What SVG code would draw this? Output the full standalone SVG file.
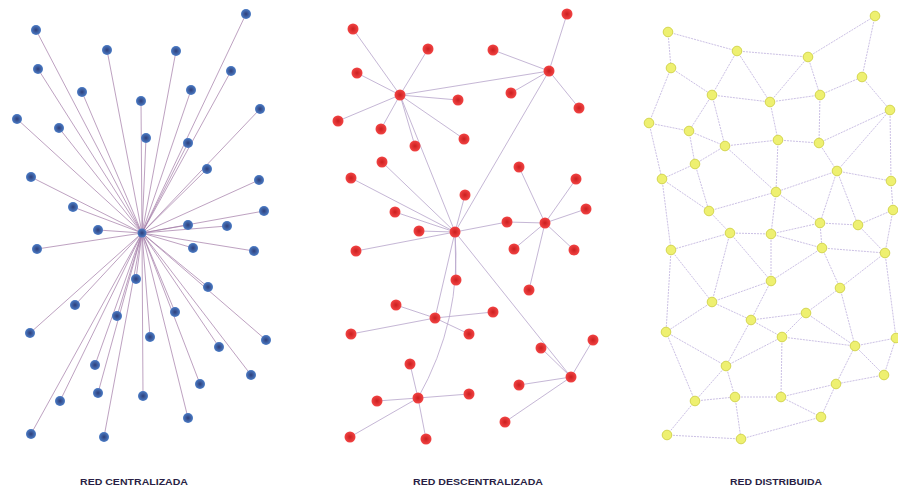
<svg xmlns="http://www.w3.org/2000/svg" width="898" height="490" viewBox="0 0 898 490">
<style>
.lc{stroke:#a57ea9;stroke-width:0.9;opacity:0.8}
.lm{stroke:#b8a6cc;stroke-width:0.9;opacity:0.9}
.lr{stroke:#bcaedc;stroke-width:0.9;stroke-dasharray:2 1;opacity:0.85}
.b{fill:url(#gb)}
.r{fill:url(#gr)}
.y{fill:#eef070;stroke:#d4d650;stroke-width:1}
.lbl{font-family:"Liberation Sans",Arial,sans-serif;font-weight:bold;font-size:9px;fill:#2a1f45;text-anchor:middle}
</style>
<defs>
<radialGradient id="gb" cx="0.5" cy="0.5" r="0.5"><stop offset="0" stop-color="#2e3f7a"/><stop offset="1" stop-color="#4b7cc6"/></radialGradient>
<radialGradient id="gr" cx="0.5" cy="0.5" r="0.5"><stop offset="0" stop-color="#cc1f1f"/><stop offset="1" stop-color="#f24444"/></radialGradient>
</defs>
<rect width="898" height="490" fill="#ffffff"/>
<g id="connectors">
<g id="conn-central">
<line class="lc" x1="142" y1="233" x2="246" y2="14"/><line class="lc" x1="142" y1="233" x2="36" y2="30"/><line class="lc" x1="142" y1="233" x2="107" y2="50"/><line class="lc" x1="142" y1="233" x2="176" y2="51"/><line class="lc" x1="142" y1="233" x2="38" y2="69"/><line class="lc" x1="142" y1="233" x2="231" y2="71"/><line class="lc" x1="142" y1="233" x2="82" y2="92"/><line class="lc" x1="142" y1="233" x2="191" y2="90"/><line class="lc" x1="142" y1="233" x2="141" y2="101"/><line class="lc" x1="142" y1="233" x2="260" y2="109"/><line class="lc" x1="142" y1="233" x2="17" y2="119"/><line class="lc" x1="142" y1="233" x2="59" y2="128"/><line class="lc" x1="142" y1="233" x2="146" y2="138"/><line class="lc" x1="142" y1="233" x2="188" y2="143"/><line class="lc" x1="142" y1="233" x2="207" y2="169"/><line class="lc" x1="142" y1="233" x2="31" y2="177"/><line class="lc" x1="142" y1="233" x2="259" y2="180"/><line class="lc" x1="142" y1="233" x2="73" y2="207"/><line class="lc" x1="142" y1="233" x2="264" y2="211"/><line class="lc" x1="142" y1="233" x2="98" y2="230"/><line class="lc" x1="142" y1="233" x2="188" y2="225"/><line class="lc" x1="142" y1="233" x2="227" y2="226"/><line class="lc" x1="142" y1="233" x2="37" y2="249"/><line class="lc" x1="142" y1="233" x2="193" y2="248"/><line class="lc" x1="142" y1="233" x2="254" y2="251"/><line class="lc" x1="142" y1="233" x2="136" y2="279"/><line class="lc" x1="142" y1="233" x2="208" y2="287"/><line class="lc" x1="142" y1="233" x2="75" y2="305"/><line class="lc" x1="142" y1="233" x2="117" y2="316"/><line class="lc" x1="142" y1="233" x2="175" y2="312"/><line class="lc" x1="142" y1="233" x2="30" y2="333"/><line class="lc" x1="142" y1="233" x2="150" y2="337"/><line class="lc" x1="142" y1="233" x2="266" y2="340"/><line class="lc" x1="142" y1="233" x2="219" y2="347"/><line class="lc" x1="142" y1="233" x2="95" y2="365"/><line class="lc" x1="142" y1="233" x2="251" y2="375"/><line class="lc" x1="142" y1="233" x2="200" y2="384"/><line class="lc" x1="142" y1="233" x2="98" y2="393"/><line class="lc" x1="142" y1="233" x2="143" y2="396"/><line class="lc" x1="142" y1="233" x2="60" y2="401"/><line class="lc" x1="142" y1="233" x2="188" y2="418"/><line class="lc" x1="142" y1="233" x2="31" y2="434"/><line class="lc" x1="142" y1="233" x2="104" y2="437"/>
</g>
<g id="conn-decentral">
<line class="lm" x1="400" y1="95" x2="353" y2="29"/><line class="lm" x1="400" y1="95" x2="428" y2="49"/><line class="lm" x1="400" y1="95" x2="357" y2="73"/><line class="lm" x1="400" y1="95" x2="458" y2="100"/><line class="lm" x1="400" y1="95" x2="338" y2="121"/><line class="lm" x1="400" y1="95" x2="381" y2="129"/><line class="lm" x1="400" y1="95" x2="415" y2="146"/><line class="lm" x1="400" y1="95" x2="464" y2="139"/>
<line class="lm" x1="549" y1="71" x2="567" y2="14"/><line class="lm" x1="549" y1="71" x2="493" y2="50"/><line class="lm" x1="549" y1="71" x2="511" y2="93"/><line class="lm" x1="549" y1="71" x2="579" y2="108"/>
<line class="lm" x1="545" y1="223" x2="519" y2="167"/><line class="lm" x1="545" y1="223" x2="576" y2="179"/><line class="lm" x1="545" y1="223" x2="586" y2="209"/><line class="lm" x1="545" y1="223" x2="507" y2="222"/><line class="lm" x1="545" y1="223" x2="514" y2="249"/><line class="lm" x1="545" y1="223" x2="574" y2="250"/><line class="lm" x1="545" y1="223" x2="529" y2="290"/>
<line class="lm" x1="455" y1="232" x2="382" y2="162"/><line class="lm" x1="455" y1="232" x2="351" y2="178"/><line class="lm" x1="455" y1="232" x2="465" y2="195"/><line class="lm" x1="455" y1="232" x2="395" y2="212"/><line class="lm" x1="455" y1="232" x2="419" y2="231"/><line class="lm" x1="455" y1="232" x2="356" y2="251"/><line class="lm" x1="455" y1="232" x2="456" y2="280"/><line class="lm" x1="455" y1="232" x2="507" y2="222"/>
<line class="lm" x1="435" y1="318" x2="396" y2="305"/><line class="lm" x1="435" y1="318" x2="493" y2="312"/><line class="lm" x1="435" y1="318" x2="351" y2="334"/><line class="lm" x1="435" y1="318" x2="469" y2="334"/>
<line class="lm" x1="571" y1="377" x2="593" y2="340"/><line class="lm" x1="571" y1="377" x2="541" y2="348"/><line class="lm" x1="571" y1="377" x2="519" y2="385"/><line class="lm" x1="571" y1="377" x2="505" y2="422"/>
<line class="lm" x1="418" y1="398" x2="410" y2="364"/><line class="lm" x1="418" y1="398" x2="377" y2="401"/><line class="lm" x1="418" y1="398" x2="469" y2="394"/><line class="lm" x1="418" y1="398" x2="350" y2="437"/><line class="lm" x1="418" y1="398" x2="426" y2="439"/>
<line class="lm" x1="400" y1="95" x2="549" y2="71"/><line class="lm" x1="400" y1="95" x2="455" y2="232"/><line class="lm" x1="549" y1="71" x2="455" y2="232"/><line class="lm" x1="455" y1="232" x2="435" y2="318"/><line class="lm" x1="455" y1="232" x2="571" y2="377"/><path class="lm" fill="none" d="M455 232 Q462 320 418 398"/>
</g>
<g id="conn-distrib">
<line class="lr" x1="668" y1="32" x2="737" y2="51"/><line class="lr" x1="737" y1="51" x2="808" y2="57"/><line class="lr" x1="808" y1="57" x2="875" y2="16"/><line class="lr" x1="875" y1="16" x2="862" y2="77"/><line class="lr" x1="668" y1="32" x2="671" y2="68"/><line class="lr" x1="671" y1="68" x2="712" y2="95"/><line class="lr" x1="737" y1="51" x2="712" y2="95"/><line class="lr" x1="737" y1="51" x2="770" y2="102"/><line class="lr" x1="712" y1="95" x2="770" y2="102"/><line class="lr" x1="770" y1="102" x2="808" y2="57"/><line class="lr" x1="808" y1="57" x2="820" y2="95"/><line class="lr" x1="770" y1="102" x2="820" y2="95"/><line class="lr" x1="820" y1="95" x2="862" y2="77"/><line class="lr" x1="862" y1="77" x2="890" y2="110"/><line class="lr" x1="671" y1="68" x2="649" y2="123"/>
<line class="lr" x1="712" y1="95" x2="689" y2="131"/><line class="lr" x1="712" y1="95" x2="725" y2="146"/><line class="lr" x1="649" y1="123" x2="689" y2="131"/><line class="lr" x1="689" y1="131" x2="725" y2="146"/><line class="lr" x1="725" y1="146" x2="778" y2="140"/><line class="lr" x1="778" y1="140" x2="819" y2="143"/><line class="lr" x1="770" y1="102" x2="778" y2="140"/><line class="lr" x1="820" y1="95" x2="819" y2="143"/><line class="lr" x1="819" y1="143" x2="890" y2="110"/><line class="lr" x1="890" y1="110" x2="837" y2="171"/><line class="lr" x1="890" y1="110" x2="891" y2="181"/><line class="lr" x1="819" y1="143" x2="837" y2="171"/><line class="lr" x1="837" y1="171" x2="891" y2="181"/><line class="lr" x1="837" y1="171" x2="776" y2="192"/><line class="lr" x1="837" y1="171" x2="820" y2="223"/><line class="lr" x1="837" y1="171" x2="858" y2="225"/><line class="lr" x1="858" y1="225" x2="893" y2="210"/><line class="lr" x1="891" y1="181" x2="893" y2="210"/>
<line class="lr" x1="649" y1="123" x2="662" y2="179"/><line class="lr" x1="689" y1="131" x2="695" y2="164"/><line class="lr" x1="695" y1="164" x2="725" y2="146"/><line class="lr" x1="695" y1="164" x2="662" y2="179"/><line class="lr" x1="695" y1="164" x2="709" y2="211"/><line class="lr" x1="725" y1="146" x2="776" y2="192"/><line class="lr" x1="778" y1="140" x2="776" y2="192"/><line class="lr" x1="662" y1="179" x2="709" y2="211"/><line class="lr" x1="709" y1="211" x2="776" y2="192"/><line class="lr" x1="776" y1="192" x2="820" y2="223"/><line class="lr" x1="820" y1="223" x2="858" y2="225"/><line class="lr" x1="709" y1="211" x2="730" y2="233"/><line class="lr" x1="776" y1="192" x2="771" y2="234"/><line class="lr" x1="730" y1="233" x2="771" y2="234"/><line class="lr" x1="662" y1="179" x2="671" y2="250"/><line class="lr" x1="771" y1="234" x2="820" y2="223"/>
<line class="lr" x1="730" y1="233" x2="671" y2="250"/><line class="lr" x1="730" y1="233" x2="712" y2="302"/><line class="lr" x1="730" y1="233" x2="771" y2="281"/><line class="lr" x1="771" y1="234" x2="771" y2="281"/><line class="lr" x1="771" y1="234" x2="822" y2="248"/><line class="lr" x1="822" y1="248" x2="885" y2="253"/><line class="lr" x1="822" y1="248" x2="771" y2="281"/><line class="lr" x1="822" y1="248" x2="840" y2="288"/><line class="lr" x1="885" y1="253" x2="840" y2="288"/><line class="lr" x1="858" y1="225" x2="885" y2="253"/><line class="lr" x1="893" y1="210" x2="885" y2="253"/><line class="lr" x1="820" y1="223" x2="822" y2="248"/><line class="lr" x1="671" y1="250" x2="712" y2="302"/><line class="lr" x1="671" y1="250" x2="666" y2="332"/><line class="lr" x1="771" y1="281" x2="712" y2="302"/><line class="lr" x1="771" y1="281" x2="751" y2="320"/><line class="lr" x1="712" y1="302" x2="751" y2="320"/><line class="lr" x1="712" y1="302" x2="666" y2="332"/><line class="lr" x1="751" y1="320" x2="806" y2="313"/><line class="lr" x1="806" y1="313" x2="840" y2="288"/><line class="lr" x1="751" y1="320" x2="782" y2="337"/><line class="lr" x1="806" y1="313" x2="782" y2="337"/><line class="lr" x1="806" y1="313" x2="855" y2="346"/><line class="lr" x1="840" y1="288" x2="855" y2="346"/><line class="lr" x1="782" y1="337" x2="855" y2="346"/><line class="lr" x1="855" y1="346" x2="896" y2="338"/><line class="lr" x1="885" y1="253" x2="896" y2="338"/>
<line class="lr" x1="666" y1="332" x2="726" y2="366"/><line class="lr" x1="751" y1="320" x2="726" y2="366"/><line class="lr" x1="782" y1="337" x2="726" y2="366"/><line class="lr" x1="666" y1="332" x2="695" y2="401"/><line class="lr" x1="726" y1="366" x2="695" y2="401"/><line class="lr" x1="726" y1="366" x2="735" y2="397"/><line class="lr" x1="695" y1="401" x2="735" y2="397"/><line class="lr" x1="735" y1="397" x2="781" y2="397"/><line class="lr" x1="782" y1="337" x2="781" y2="397"/><line class="lr" x1="781" y1="397" x2="836" y2="384"/><line class="lr" x1="781" y1="397" x2="821" y2="417"/><line class="lr" x1="836" y1="384" x2="821" y2="417"/><line class="lr" x1="836" y1="384" x2="855" y2="346"/><line class="lr" x1="855" y1="346" x2="884" y2="375"/><line class="lr" x1="884" y1="375" x2="896" y2="338"/><line class="lr" x1="884" y1="375" x2="836" y2="384"/><line class="lr" x1="695" y1="401" x2="667" y2="435"/><line class="lr" x1="667" y1="435" x2="741" y2="439"/><line class="lr" x1="735" y1="397" x2="741" y2="439"/><line class="lr" x1="741" y1="439" x2="821" y2="417"/>
</g>
</g>
<g id="nodes-central">
<g id="c0"><circle class="b" cx="142" cy="233" r="4.5"/></g>
<g id="c1"><circle class="b" cx="246" cy="14" r="5"/></g><g id="c2"><circle class="b" cx="36" cy="30" r="5"/></g><g id="c3"><circle class="b" cx="107" cy="50" r="5"/></g><g id="c4"><circle class="b" cx="176" cy="51" r="5"/></g><g id="c5"><circle class="b" cx="38" cy="69" r="5"/></g><g id="c6"><circle class="b" cx="231" cy="71" r="5"/></g><g id="c7"><circle class="b" cx="82" cy="92" r="5"/></g><g id="c8"><circle class="b" cx="191" cy="90" r="5"/></g><g id="c9"><circle class="b" cx="141" cy="101" r="5"/></g><g id="c10"><circle class="b" cx="260" cy="109" r="5"/></g><g id="c11"><circle class="b" cx="17" cy="119" r="5"/></g><g id="c12"><circle class="b" cx="59" cy="128" r="5"/></g><g id="c13"><circle class="b" cx="146" cy="138" r="5"/></g><g id="c14"><circle class="b" cx="188" cy="143" r="5"/></g><g id="c15"><circle class="b" cx="207" cy="169" r="5"/></g><g id="c16"><circle class="b" cx="31" cy="177" r="5"/></g><g id="c17"><circle class="b" cx="259" cy="180" r="5"/></g><g id="c18"><circle class="b" cx="73" cy="207" r="5"/></g><g id="c19"><circle class="b" cx="264" cy="211" r="5"/></g><g id="c20"><circle class="b" cx="98" cy="230" r="5"/></g><g id="c21"><circle class="b" cx="188" cy="225" r="5"/></g><g id="c22"><circle class="b" cx="227" cy="226" r="5"/></g><g id="c23"><circle class="b" cx="37" cy="249" r="5"/></g><g id="c24"><circle class="b" cx="193" cy="248" r="5"/></g><g id="c25"><circle class="b" cx="254" cy="251" r="5"/></g><g id="c26"><circle class="b" cx="136" cy="279" r="5"/></g><g id="c27"><circle class="b" cx="208" cy="287" r="5"/></g><g id="c28"><circle class="b" cx="75" cy="305" r="5"/></g><g id="c29"><circle class="b" cx="117" cy="316" r="5"/></g><g id="c30"><circle class="b" cx="175" cy="312" r="5"/></g><g id="c31"><circle class="b" cx="30" cy="333" r="5"/></g><g id="c32"><circle class="b" cx="150" cy="337" r="5"/></g><g id="c33"><circle class="b" cx="266" cy="340" r="5"/></g><g id="c34"><circle class="b" cx="219" cy="347" r="5"/></g><g id="c35"><circle class="b" cx="95" cy="365" r="5"/></g><g id="c36"><circle class="b" cx="251" cy="375" r="5"/></g><g id="c37"><circle class="b" cx="200" cy="384" r="5"/></g><g id="c38"><circle class="b" cx="98" cy="393" r="5"/></g><g id="c39"><circle class="b" cx="143" cy="396" r="5"/></g><g id="c40"><circle class="b" cx="60" cy="401" r="5"/></g><g id="c41"><circle class="b" cx="188" cy="418" r="5"/></g><g id="c42"><circle class="b" cx="31" cy="434" r="5"/></g><g id="c43"><circle class="b" cx="104" cy="437" r="5"/></g>
</g>
<g id="nodes-decentral">
<g id="hA"><circle class="r" cx="400" cy="95" r="5.5"/></g><g id="hB"><circle class="r" cx="549" cy="71" r="5.5"/></g><g id="hC"><circle class="r" cx="545" cy="223" r="5.5"/></g><g id="hD"><circle class="r" cx="455" cy="232" r="5.5"/></g><g id="hE"><circle class="r" cx="435" cy="318" r="5.5"/></g><g id="hF"><circle class="r" cx="571" cy="377" r="5.5"/></g><g id="hG"><circle class="r" cx="418" cy="398" r="5.5"/></g>
<g id="d1"><circle class="r" cx="353" cy="29" r="5.5"/></g><g id="d2"><circle class="r" cx="428" cy="49" r="5.5"/></g><g id="d3"><circle class="r" cx="357" cy="73" r="5.5"/></g><g id="d4"><circle class="r" cx="458" cy="100" r="5.5"/></g><g id="d5"><circle class="r" cx="338" cy="121" r="5.5"/></g><g id="d6"><circle class="r" cx="381" cy="129" r="5.5"/></g><g id="d7"><circle class="r" cx="415" cy="146" r="5.5"/></g><g id="d8"><circle class="r" cx="464" cy="139" r="5.5"/></g>
<g id="d9"><circle class="r" cx="567" cy="14" r="5.5"/></g><g id="d10"><circle class="r" cx="493" cy="50" r="5.5"/></g><g id="d11"><circle class="r" cx="511" cy="93" r="5.5"/></g><g id="d12"><circle class="r" cx="579" cy="108" r="5.5"/></g>
<g id="d13"><circle class="r" cx="519" cy="167" r="5.5"/></g><g id="d14"><circle class="r" cx="576" cy="179" r="5.5"/></g><g id="d15"><circle class="r" cx="586" cy="209" r="5.5"/></g><g id="d16"><circle class="r" cx="507" cy="222" r="5.5"/></g><g id="d17"><circle class="r" cx="514" cy="249" r="5.5"/></g><g id="d18"><circle class="r" cx="574" cy="250" r="5.5"/></g><g id="d19"><circle class="r" cx="529" cy="290" r="5.5"/></g>
<g id="d20"><circle class="r" cx="382" cy="162" r="5.5"/></g><g id="d21"><circle class="r" cx="351" cy="178" r="5.5"/></g><g id="d22"><circle class="r" cx="465" cy="195" r="5.5"/></g><g id="d23"><circle class="r" cx="395" cy="212" r="5.5"/></g><g id="d24"><circle class="r" cx="419" cy="231" r="5.5"/></g><g id="d25"><circle class="r" cx="356" cy="251" r="5.5"/></g><g id="d26"><circle class="r" cx="456" cy="280" r="5.5"/></g>
<g id="d27"><circle class="r" cx="396" cy="305" r="5.5"/></g><g id="d28"><circle class="r" cx="493" cy="312" r="5.5"/></g><g id="d29"><circle class="r" cx="351" cy="334" r="5.5"/></g><g id="d30"><circle class="r" cx="469" cy="334" r="5.5"/></g>
<g id="d31"><circle class="r" cx="593" cy="340" r="5.5"/></g><g id="d32"><circle class="r" cx="541" cy="348" r="5.5"/></g><g id="d33"><circle class="r" cx="519" cy="385" r="5.5"/></g><g id="d34"><circle class="r" cx="505" cy="422" r="5.5"/></g>
<g id="d35"><circle class="r" cx="410" cy="364" r="5.5"/></g><g id="d36"><circle class="r" cx="377" cy="401" r="5.5"/></g><g id="d37"><circle class="r" cx="469" cy="394" r="5.5"/></g><g id="d38"><circle class="r" cx="350" cy="437" r="5.5"/></g><g id="d39"><circle class="r" cx="426" cy="439" r="5.5"/></g>
</g>
<g id="nodes-distrib">
<g id="n1"><circle class="y" cx="875" cy="16" r="4.8"/></g><g id="n2"><circle class="y" cx="668" cy="32" r="4.8"/></g><g id="n3"><circle class="y" cx="737" cy="51" r="4.8"/></g><g id="n4"><circle class="y" cx="808" cy="57" r="4.8"/></g><g id="n5"><circle class="y" cx="671" cy="68" r="4.8"/></g><g id="n6"><circle class="y" cx="862" cy="77" r="4.8"/></g><g id="n7"><circle class="y" cx="712" cy="95" r="4.8"/></g><g id="n8"><circle class="y" cx="770" cy="102" r="4.8"/></g><g id="n9"><circle class="y" cx="820" cy="95" r="4.8"/></g><g id="n10"><circle class="y" cx="890" cy="110" r="4.8"/></g><g id="n11"><circle class="y" cx="649" cy="123" r="4.8"/></g><g id="n12"><circle class="y" cx="689" cy="131" r="4.8"/></g><g id="n13"><circle class="y" cx="725" cy="146" r="4.8"/></g><g id="n14"><circle class="y" cx="778" cy="140" r="4.8"/></g><g id="n15"><circle class="y" cx="819" cy="143" r="4.8"/></g><g id="n16"><circle class="y" cx="695" cy="164" r="4.8"/></g><g id="n17"><circle class="y" cx="837" cy="171" r="4.8"/></g><g id="n18"><circle class="y" cx="662" cy="179" r="4.8"/></g><g id="n19"><circle class="y" cx="891" cy="181" r="4.8"/></g><g id="n20"><circle class="y" cx="776" cy="192" r="4.8"/></g><g id="n21"><circle class="y" cx="709" cy="211" r="4.8"/></g><g id="n22"><circle class="y" cx="893" cy="210" r="4.8"/></g><g id="n23"><circle class="y" cx="820" cy="223" r="4.8"/></g><g id="n24"><circle class="y" cx="858" cy="225" r="4.8"/></g><g id="n25"><circle class="y" cx="730" cy="233" r="4.8"/></g><g id="n26"><circle class="y" cx="771" cy="234" r="4.8"/></g><g id="n27"><circle class="y" cx="671" cy="250" r="4.8"/></g><g id="n28"><circle class="y" cx="822" cy="248" r="4.8"/></g><g id="n29"><circle class="y" cx="885" cy="253" r="4.8"/></g><g id="n30"><circle class="y" cx="771" cy="281" r="4.8"/></g><g id="n31"><circle class="y" cx="840" cy="288" r="4.8"/></g><g id="n32"><circle class="y" cx="712" cy="302" r="4.8"/></g><g id="n33"><circle class="y" cx="806" cy="313" r="4.8"/></g><g id="n34"><circle class="y" cx="751" cy="320" r="4.8"/></g><g id="n35"><circle class="y" cx="666" cy="332" r="4.8"/></g><g id="n36"><circle class="y" cx="782" cy="337" r="4.8"/></g><g id="n37"><circle class="y" cx="855" cy="346" r="4.8"/></g><g id="n38"><circle class="y" cx="896" cy="338" r="4.8"/></g><g id="n40"><circle class="y" cx="726" cy="366" r="4.8"/></g><g id="n41"><circle class="y" cx="884" cy="375" r="4.8"/></g><g id="n42"><circle class="y" cx="836" cy="384" r="4.8"/></g><g id="n43"><circle class="y" cx="695" cy="401" r="4.8"/></g><g id="n44"><circle class="y" cx="735" cy="397" r="4.8"/></g><g id="n45"><circle class="y" cx="781" cy="397" r="4.8"/></g><g id="n46"><circle class="y" cx="821" cy="417" r="4.8"/></g><g id="n47"><circle class="y" cx="667" cy="435" r="4.8"/></g><g id="n48"><circle class="y" cx="741" cy="439" r="4.8"/></g>
</g>
<g id="labels">
<text class="lbl" x="134" y="485" textLength="108" lengthAdjust="spacingAndGlyphs">RED CENTRALIZADA</text>
<text class="lbl" x="478" y="485" textLength="130" lengthAdjust="spacingAndGlyphs">RED DESCENTRALIZADA</text>
<text class="lbl" x="776" y="485" textLength="92" lengthAdjust="spacingAndGlyphs">RED DISTRIBUIDA</text>
</g>
</svg>
